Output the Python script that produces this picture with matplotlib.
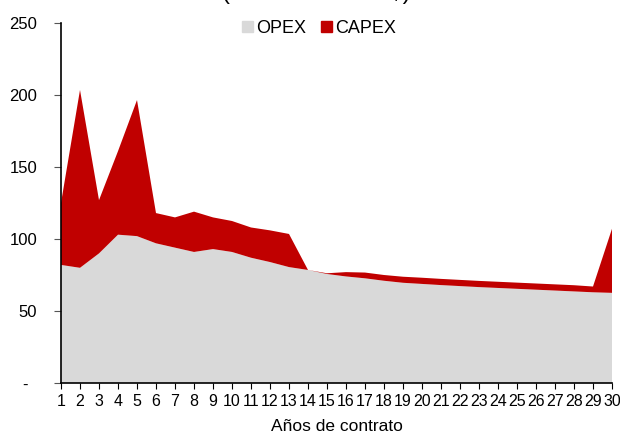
import matplotlib.pyplot as plt
from matplotlib.patches import Patch

plt.rcParams['font.family'] = ['Liberation Sans', 'DejaVu Sans']

# datos (millones de US$)
anios = list(range(1, 31))
opex = [82, 80, 90, 103, 102, 97, 94, 91, 93, 91, 87, 84, 80.5, 78.5, 75.7,
        74, 72.7, 71, 69.6, 68.8, 68.0, 67.3, 66.6, 66.0, 65.4, 64.8, 64.2,
        63.6, 63.0, 62.6]
capex = [43, 123.5, 37, 58, 94.5, 21, 21, 28, 22, 21.5, 21, 22, 23, 0, 0.5,
         3, 4, 4, 4.2, 4.3, 4.3, 4.3, 4.3, 4.3, 4.3, 4.3, 4.3, 4.3, 4.0, 44.5]
y_ticks = [0, 50, 100, 150, 200, 250]
y_labels = ["-  ", "50", "100", "150", "200", "250"]

gris = "#d9d9d9"
rojo = "#c00000"

fig = plt.figure(figsize=(6.2, 4.34), dpi=100)
ax = fig.add_axes([61 / 620, 1 - 383 / 434, 551 / 620, 360 / 434])

ax.stackplot(anios, opex, capex, colors=[gris, rojo], linewidth=0)

ax.set_xlim(1, 30)
ax.set_ylim(0, 250)
ax.set_xticks(anios)
ax.set_xticklabels([str(a) for a in anios], fontsize=11.5)
ax.set_yticks(y_ticks)
ax.set_yticklabels(y_labels, fontsize=12)
ax.tick_params(axis='x', direction='out', length=4, pad=4, color='black')
ax.tick_params(axis='y', direction='out', length=5, pad=12, color='#555555')
ax.spines['top'].set_visible(False)
ax.spines['right'].set_visible(False)
ax.spines['left'].set_linewidth(1.2)
ax.spines['bottom'].set_linewidth(1.2)
ax.set_xlabel("Años de contrato", fontsize=12.5, labelpad=7)

# titulo cortado arriba, como en el original
fig.text(316 / 620, 1 + 1.5 / 434, "(Millones de US$)", ha='center',
         va='baseline', fontsize=17)

handles = [Patch(color=gris, label="OPEX"), Patch(color=rojo, label="CAPEX")]
fig.legend(handles=handles, loc='center', bbox_to_anchor=(319 / 620, 1 - 28.5 / 434),
           ncol=2, frameon=False, fontsize=13, handlelength=0.6, handleheight=0.6,
           handletextpad=0.2, columnspacing=0.8, borderpad=0)

fig.savefig("out.png", dpi=100)
